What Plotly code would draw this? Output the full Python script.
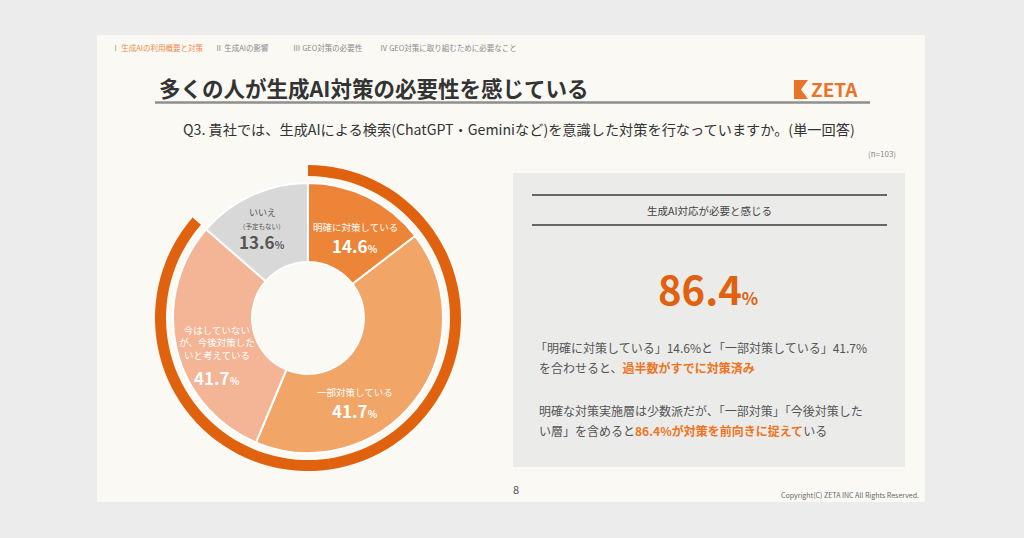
import plotly.graph_objects as go

# ---------------- data ----------------
categories = ["明確に対策している", "一部対策している",
              "今はしていないが、今後対策したいと考えている", "いいえ（予定もない）"]
shares = [14.6, 41.7, 30.1, 13.6]          # slice sizes as drawn
printed_pct = ["14.6", "41.7", "41.7", "13.6"]  # percentages as printed on the slices
ring_labels = ["生成AI対応が必要と感じる", "その他"]
ring_values = [86.4, 13.6]
headline_value = "86.4"
n_label = "(n=103)"
nav_items = ["Ⅰ 生成AIの利用概要と対策", "Ⅱ 生成AIの影響", "Ⅲ GEO対策の必要性", "Ⅳ GEO対策に取り組むために必要なこと"]

# page body has an 8px margin: figure sits at (8, 8)
OFF = 8
W, H = 1024 - OFF, 538 - OFF
FONT = "Noto Sans CJK JP"
PAGE_BG = "#ececec"


def X(px):
    return (px - OFF) / W


def Y(py):
    return 1 - (py - OFF) / H


slice_colors = ["#ec8538", "#f1a566", "#f3b595", "#d8d8d8"]
ring_color = "#e0620f"
orange_txt = "#ee7422"

fig = go.Figure()

# outer ring (86.4%)
cx, cy = 308, 318
R_ring = 153
fig.add_trace(go.Pie(
    labels=ring_labels, values=ring_values, sort=False, direction="clockwise", rotation=0,
    hole=142 / 153, textinfo="none", hoverinfo="skip", showlegend=False,
    marker=dict(colors=[ring_color, "rgba(0,0,0,0)"], line=dict(width=0)),
    domain=dict(x=[X(cx - R_ring), X(cx + R_ring)], y=[Y(cy + R_ring), Y(cy - R_ring)]),
))

# inner donut
R_pie = 135
fig.add_trace(go.Pie(
    labels=categories, values=shares, sort=False, direction="clockwise", rotation=0,
    hole=56 / 135, textinfo="none", hoverinfo="skip", showlegend=False,
    marker=dict(colors=slice_colors, line=dict(color="white", width=2)),
    domain=dict(x=[X(cx - R_pie), X(cx + R_pie)], y=[Y(cy + R_pie), Y(cy - R_pie)]),
))

shapes = []
# slide background
shapes.append(dict(type="rect", xref="paper", yref="paper", x0=X(97), x1=X(925), y0=Y(502), y1=Y(35),
                   fillcolor="#fbf9f4", line=dict(width=0), layer="below"))
# title underline
shapes.append(dict(type="line", xref="paper", yref="paper", x0=X(155), x1=X(870), y0=Y(102.5), y1=Y(102.5),
                   line=dict(color="#8e8e8e", width=2.5), layer="below"))
# logo icon
lx, ly = 794, 80
path = (f"M{X(lx)},{Y(ly)} L{X(lx+14)},{Y(ly)} L{X(lx+7)},{Y(ly+9.5)} "
        f"L{X(lx+14)},{Y(ly+19)} L{X(lx)},{Y(ly+19)} Z")
shapes.append(dict(type="path", xref="paper", yref="paper", path=path,
                   fillcolor="#e8742a", line=dict(width=0)))
# right panel
shapes.append(dict(type="rect", xref="paper", yref="paper", x0=X(513), x1=X(905), y0=Y(467), y1=Y(173),
                   fillcolor="#ebebea", line=dict(width=0), layer="below"))
for yy in (195, 225):
    shapes.append(dict(type="line", xref="paper", yref="paper", x0=X(532), x1=X(887), y0=Y(yy), y1=Y(yy),
                       line=dict(color="#666666", width=2), layer="below"))

ann = []


def T(x, y, text, size, color="#333333", xanchor="left", yanchor="middle", align="left"):
    ann.append(dict(x=X(x), y=Y(y), xref="paper", yref="paper", text=text, showarrow=False,
                    font=dict(family=FONT, size=size, color=color),
                    xanchor=xanchor, yanchor=yanchor, align=align))


# nav
nav_x = [110, 213, 291, 378]
for i, (t, x) in enumerate(zip(nav_items, nav_x)):
    T(x, 48, t, 7.5, "#f08a4b" if i == 0 else "#8a8a8a")

# title
T(157, 88, "<b>多くの人が生成AI対策の必要性を感じている</b>", 21.5, "#333333")
# logo text
T(809, 89, "<b>ZETA</b>", 19, "#e8742a")
# question
T(181, 129, "Q3. 貴社では、生成AIによる検索(ChatGPT・Geminiなど)を意識した対策を行なっていますか。(単一回答)",
  14.2, "#333333")
T(898, 154, n_label, 8, "#888888", xanchor="right")


def pct(v, big, small):
    return f"<b><span style='font-size:{big}px'>{v}</span><span style='font-size:{small}px'>%</span></b>"


# slice labels
T(355, 227, categories[0], 9.5, "white", xanchor="center")
T(355, 245, pct(printed_pct[0], 17, 10), 17, "white", xanchor="center")
T(355, 392, categories[1], 9.5, "white", xanchor="center")
T(355, 410, pct(printed_pct[1], 17, 10), 17, "white", xanchor="center")
T(217, 342, "今はしていない<br>が、今後対策した<br>いと考えている", 9.5, "white", xanchor="center", align="center")
T(217, 377, pct(printed_pct[2], 17, 10), 17, "white", xanchor="center")
T(262, 212, "いいえ", 9, "#555555", xanchor="center")
T(262, 226, "（予定もない）", 6.5, "#555555", xanchor="center")
T(262, 241, pct(printed_pct[3], 17, 10), 17, "#555555", xanchor="center")

# right panel
T(709, 210, ring_labels[0], 10.5, "#444444", xanchor="center")
T(708, 288, f"<b><span style='font-size:40px'>{headline_value}</span><span style='font-size:17px'>%</span></b>",
  40, ring_color, xanchor="center")
para = "#555555"
T(533, 347, "「明確に対策している」14.6%と「一部対策している」41.7%", 12, para)
T(537, 367, f"を合わせると、<b><span style='color:{orange_txt}'>過半数がすでに対策済み</span></b>", 12, para)
T(537, 410, "明確な対策実施層は少数派だが、「一部対策」「今後対策した", 12, para)
T(537, 430, f"い層」を含めると<b><span style='color:{orange_txt}'>{headline_value}%が対策を前向きに捉えて</span></b>いる",
  12, para)

# footer
T(516, 489, "8", 11, "#555555", xanchor="center")
T(921, 495, "Copyright(C) ZETA INC All Rights Reserved.", 7, "#666666", xanchor="right")

fig.update_layout(
    width=W, height=H, margin=dict(l=0, r=0, t=0, b=0),
    paper_bgcolor=PAGE_BG, plot_bgcolor=PAGE_BG,
    shapes=shapes, annotations=ann, showlegend=False,
)

fig.write_html("out.html",
               post_script=f"document.body.style.background='{PAGE_BG}';"
                           f"document.documentElement.style.background='{PAGE_BG}';")
